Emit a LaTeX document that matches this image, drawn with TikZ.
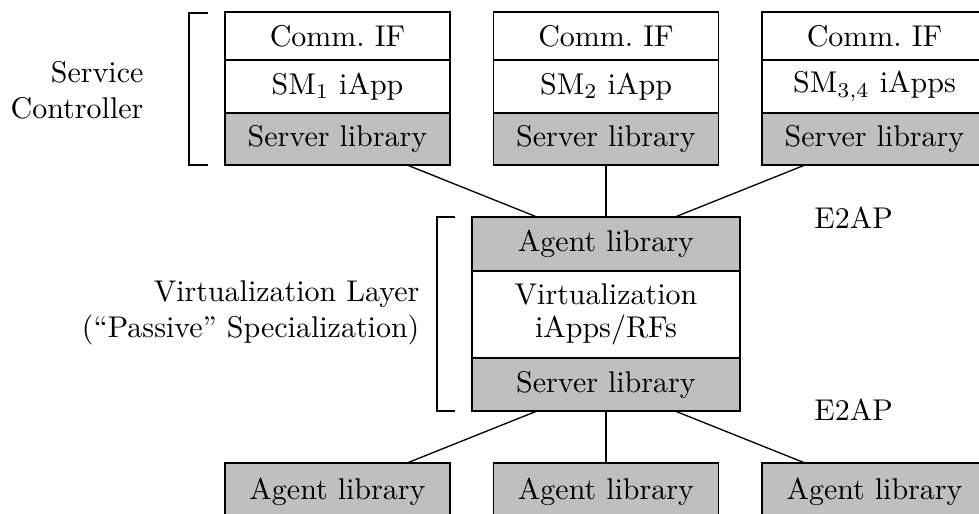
\documentclass[tikz,border=0pt]{standalone}
\usetikzlibrary{calc}
\begin{document}
\begin{tikzpicture}[x=1pt,y=-1pt,
  cell/.style={draw, line width=0.45pt, minimum width=75pt, inner sep=0pt, outer sep=0pt, align=center},
  lib/.style={cell, fill=gray!50},
  midcell/.style={cell, minimum width=89.33pt},
  midlib/.style={midcell, fill=gray!50},
  conn/.style={line width=0.45pt},
  brk/.style={line width=0.45pt},
  lbl/.style={align=right, inner sep=0pt}]
\clip (0,0) rectangle (326.33,171);
% top row
\foreach \n/\cx/\t in {1/112.5/{SM$_1$ iApp}, 2/202/{SM$_2$ iApp}, 3/291.5/{SM$_{3,4}$ iApps}}{
  \node[cell, minimum height=16pt] (comm\n) at (\cx,12) {Comm.\ IF};
  \node[cell, minimum height=17.67pt] (sm\n) at (\cx,28.83) {\t};
  \node[lib, minimum height=17.33pt] (sl\n) at (\cx,46.33) {Server library};
}
% middle
\node[midlib, minimum height=18pt] (ag) at (202,81.33) {Agent library};
\node[midcell, minimum height=29pt] (virt) at (202,104.83) {Virtualization\\[-1pt]iApps/RFs};
\node[midlib, minimum height=17.67pt] (ms) at (202,128.17) {Server library};
% bottom (cut off by the picture's lower edge)
\node[lib, minimum height=19pt, anchor=north] (b1) at (112.5,154.33) {Agent library};
\node[lib, minimum height=19pt, anchor=north] (b2) at (202,154.33) {Agent library};
\node[lib, minimum height=19pt, anchor=north] (b3) at (291.5,154.33) {Agent library};
% connectors
\draw[conn] ($(sl1.south west)!0.809!(sl1.south east)$) -- ($(ag.north west)!0.2425!(ag.north east)$);
\draw[conn] (sl2.south) -- (ag.north);
\draw[conn] ($(sl3.south west)!0.191!(sl3.south east)$) -- ($(ag.north west)!0.7575!(ag.north east)$);
\draw[conn] ($(ms.south west)!0.2425!(ms.south east)$) -- ($(b1.north west)!0.809!(b1.north east)$);
\draw[conn] (ms.south) -- (b2.north);
\draw[conn] ($(ms.south west)!0.7575!(ms.south east)$) -- ($(b3.north west)!0.191!(b3.north east)$);
% brackets
\coordinate (br1t) at (63,4.33);
\coordinate (br1b) at (63,55);
\draw[brk] ($(br1t)+(6.33,0)$) -- (br1t) -- (br1b) -- ($(br1b)+(6.33,0)$);
\coordinate (br2t) at (145.67,72.33);
\coordinate (br2b) at (145.67,137);
\draw[brk] ($(br2t)+(6,0)$) -- (br2t) -- (br2b) -- ($(br2b)+(6,0)$);
% labels
\node[lbl, anchor=east] (sc) at (48,30) {Service\\Controller};
\node[lbl, anchor=east] (vl) at (140,104.3) {Virtualization Layer\\(``Passive'' Specialization)};
\node[inner sep=0pt] (e2a) at (284.5,72.7) {E2AP};
\node[inner sep=0pt] (e2b) at (284.5,136.5) {E2AP};
\end{tikzpicture}
\end{document}
